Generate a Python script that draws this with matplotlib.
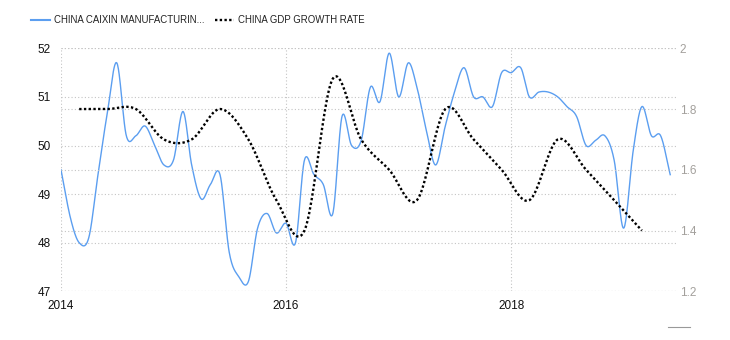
import numpy as np
import matplotlib
matplotlib.use("Agg")
import matplotlib.pyplot as plt
import matplotlib.dates as mdates
from matplotlib.lines import Line2D
import datetime as dt

plt.rcParams['font.family'] = ['Liberation Sans', 'DejaVu Sans']

# Caixin manufacturing PMI, monthly Jan 2014 .. Jun 2019
caixin_start = dt.date(2014, 1, 1)
caixin = [49.5, 48.5, 48.0, 48.1, 49.4, 50.7, 51.7, 50.2, 50.2, 50.4, 50.0, 49.6,
          49.7, 50.7, 49.6, 48.9, 49.2, 49.4, 47.8, 47.3, 47.2, 48.3, 48.6, 48.2,
          48.4, 48.0, 49.7, 49.4, 49.2, 48.6, 50.6, 50.0, 50.1, 51.2, 50.9, 51.9,
          51.0, 51.7, 51.2, 50.3, 49.6, 50.4, 51.1, 51.6, 51.0, 51.0, 50.8, 51.5,
          51.5, 51.6, 51.0, 51.1, 51.1, 51.0, 50.8, 50.6, 50.0, 50.1, 50.2, 49.7,
          48.3, 49.9, 50.8, 50.2, 50.2, 49.4]

# China GDP growth rate (QoQ), quarterly Q1 2014 .. Q1 2019
gdp_start = dt.date(2014, 3, 1)
gdp = [1.8, 1.8, 1.8, 1.7, 1.7, 1.8, 1.7, 1.5, 1.4, 1.9, 1.7,
       1.6, 1.5, 1.8, 1.7, 1.6, 1.5, 1.7, 1.6, 1.5, 1.4]

left_ticks = [47, 48, 49, 50, 51, 52]
right_ticks = [1.2, 1.4, 1.6, 1.8, 2.0]
right_labels = ['1.2', '1.4', '1.6', '1.8', '2']
year_ticks = [2014, 2016, 2018]

BLUE = '#5b9ef0'
GRID = '#c4c4c4'


def month_dates(start, n, step):
    out = []
    y, m = start.year, start.month
    for i in range(n):
        out.append(dt.date(y, m, 1))
        m += step
        while m > 12:
            m -= 12
            y += 1
    return mdates.date2num(out)


def smooth(x, y, per=24):
    # cardinal (catmull-rom style) spline through the points, like the web chart
    x = np.asarray(x, float)
    y = np.asarray(y, float)
    n = len(x)
    m = np.zeros(n)
    m[1:-1] = (y[2:] - y[:-2]) / (x[2:] - x[:-2])
    m[0] = (y[1] - y[0]) / (x[1] - x[0])
    m[-1] = (y[-1] - y[-2]) / (x[-1] - x[-2])
    xs, ys = [], []
    for i in range(n - 1):
        h = x[i + 1] - x[i]
        t = np.linspace(0, 1, per, endpoint=False)
        h00 = 2 * t**3 - 3 * t**2 + 1
        h10 = t**3 - 2 * t**2 + t
        h01 = -2 * t**3 + 3 * t**2
        h11 = t**3 - t**2
        xs.append(x[i] + t * h)
        ys.append(h00 * y[i] + h10 * h * m[i] + h01 * y[i + 1] + h11 * h * m[i + 1])
    xs.append([x[-1]])
    ys.append([y[-1]])
    return np.concatenate(xs), np.concatenate(ys)


cx = month_dates(caixin_start, len(caixin), 1)
gx = month_dates(gdp_start, len(gdp), 3)

fig = plt.figure(figsize=(7.3, 3.4), dpi=100)
ax = fig.add_axes([61 / 730, 48.7 / 340, 616 / 730, 243 / 340])
ax2 = ax.twinx()

x0 = mdates.date2num(dt.date(2014, 1, 1))
ax.set_xlim(x0, x0 + 1999)

sx, sy = smooth(cx, caixin)
ax.plot(sx, sy, color=BLUE, lw=1.0, zorder=3)
gsx, gsy = smooth(gx, gdp)
ax2.plot(gsx, gsy, color='black', lw=1.7, ls=(0, (1, 1)), zorder=3)

ax.set_ylim(47, 52)
ax2.set_ylim(1.2, 2.0)
ax.set_yticks(left_ticks)
ax.set_yticklabels([str(v) for v in left_ticks])
ax2.set_yticks(right_ticks)
ax2.set_yticklabels(right_labels)
ax.set_xticks(month_dates(dt.date(2014, 1, 1), 3, 24))
ax.set_xticklabels([str(y) for y in year_ticks])

for a in (ax, ax2):
    for s in a.spines.values():
        s.set_visible(False)
    a.set_axisbelow(True)
ax.grid(True, axis='both', color=GRID, lw=0.8, ls=(0, (1, 2)))
ax2.grid(True, axis='y', color=GRID, lw=0.8, ls=(0, (1, 2)))

ax.tick_params(axis='y', length=0, pad=7.5, labelsize=8.5, labelcolor='#111111')
ax.tick_params(axis='x', length=0, pad=6, labelsize=8.5, labelcolor='#111111')
ax2.tick_params(axis='y', length=0, pad=2, labelsize=8.5, labelcolor='#a3a09c')

handles = [Line2D([], [], color=BLUE, lw=1.5),
           Line2D([], [], color='black', lw=1.7, ls=(0, (1, 1)))]
fig.legend(handles, ['CHINA CAIXIN MANUFACTURIN...', 'CHINA GDP GROWTH RATE'],
           loc='upper left', bbox_to_anchor=(31 / 730, 1 - 15 / 340), ncol=2,
           frameon=False, fontsize=6.9, handlelength=2.0, handletextpad=0.4,
           columnspacing=1.1, borderpad=0, borderaxespad=0, labelcolor='#222222')

fig.add_artist(Line2D([668 / 730, 690 / 730], [13 / 340, 13 / 340],
                      transform=fig.transFigure, color='#999999', lw=0.8))

fig.savefig('out.png', dpi=100, facecolor='white')
